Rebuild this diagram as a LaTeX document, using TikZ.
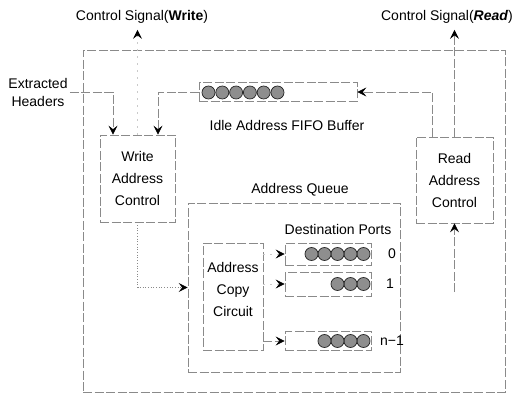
\documentclass[tikz,border=0pt]{standalone}
\usepackage{fontspec}
\setmainfont{Liberation Sans}
\usetikzlibrary{arrows.meta, positioning, calc}
\definecolor{cline}{HTML}{8A8A8A}
\definecolor{cball}{HTML}{8E8E8E}
\tikzset{
  every picture/.style={font=\fontsize{14}{22}\selectfont, line width=0.7pt},
  box/.style={draw=cline, dash pattern=on 9pt off 2.5pt, align=center, inner sep=0pt},
  wire/.style={draw=cline, dash pattern=on 9pt off 2.5pt},
  faint/.style={draw=cline!45, dash pattern=on 2pt off 5pt},
  dotwire/.style={draw=cline, dotted},
  arrow/.style={-{Stealth[length=9pt, width=9pt, inset=3.5pt, color=black]}},
  cell/.style={circle, draw=black!85, fill=cball, minimum size=13pt, inner sep=0pt, line width=0.7pt},
  tag/.style={align=center, inner sep=2pt},
}

\begin{document}
\begin{tikzpicture}[x=1pt, y=-1pt]
  \useasboundingbox (0,0) rectangle (515,396);
  \node[box, minimum width=422, minimum height=342] (frame) at (294,221) {};
  \node[tag] (wsig) at (142,17) {Control Signal(\textbf{Write})};
  \node[tag] (rsig) at (447,17) {Control Signal(\textbf{\textit{Read}})};
  \node[tag, font=\fontsize{14}{18}\selectfont] (eh) at (38,92) {Extracted\\Headers};
  \node[box, minimum width=75, minimum height=87] (wac) at (137.5,178.5) {Write\\Address\\Control};
  \node[box, minimum width=77, minimum height=86] (rac) at (454.5,180) {Read\\Address\\Control};
  \node[box, minimum width=158, minimum height=19] (fifo) at (278,92) {};
  \foreach \i in {0,...,5}
    \node[cell] (f\i) at (208.5+\i*13.8,92.5) {};
  \node[tag] (idle) at (287,125) {Idle Address FIFO Buffer};
  \node[box, minimum width=212, minimum height=169] (aq) at (294,287.5) {};
  \node[tag] (aqname) at (300,190) {Address Queue};
  \node[box, minimum width=60, minimum height=107] (acc) at (233,296.5) {};
  \node[tag] (accname) at (233,289) {Address\\Copy\\Circuit};
  \node[tag] (dest) at (338,229) {Destination Ports};
  \node[box, minimum width=86, minimum height=22] (q0) at (328,254) {};
  \node[box, minimum width=86, minimum height=24] (q1) at (328,284) {};
  \node[box, minimum width=86, minimum height=19] (qn) at (328,341) {};
  \foreach \i in {0,...,4}
    \node[cell] (a\i) at (363.5-\i*13,254) {};
  \foreach \i in {0,...,2}
    \node[cell] (b\i) at (363.5-\i*13,284) {};
  \foreach \i in {0,...,3}
    \node[cell] (c\i) at (363.5-\i*13,341) {};
  \node[tag] (p0) at (392,254) {0};
  \node[tag] (p1) at (390,284) {1};
  \node[tag] (pn) at (392,341) {n−1};
  \coordinate (rin) at (454.5,292);

  \draw[wire, arrow] (eh.east) -| ([xshift=-24.5pt]wac.north);
  \draw[wire, arrow] (fifo.west) -| ([xshift=20.5pt]wac.north);
  \draw[wire, arrow] ([xshift=-22.5pt]rac.north) |- (fifo.east);
  \draw[faint, arrow, shorten >=4pt] (wac.north) -- (wac.north |- wsig.south);
  \draw[wire, arrow, shorten >=4pt] (rac.north) -- (rac.north |- rsig.south);
  \draw[dotwire, arrow] (wac.south) |- (aq.west);
  \draw[wire, arrow] (rin) -- (rac.south);
  \draw[faint, arrow] (acc.east |- q0.west) -- (q0.west);
  \draw[faint, arrow] (acc.east |- q1.west) -- (q1.west);
  \draw[wire, arrow] (acc.east |- qn.west) -- (qn.west);
\end{tikzpicture}
\end{document}
